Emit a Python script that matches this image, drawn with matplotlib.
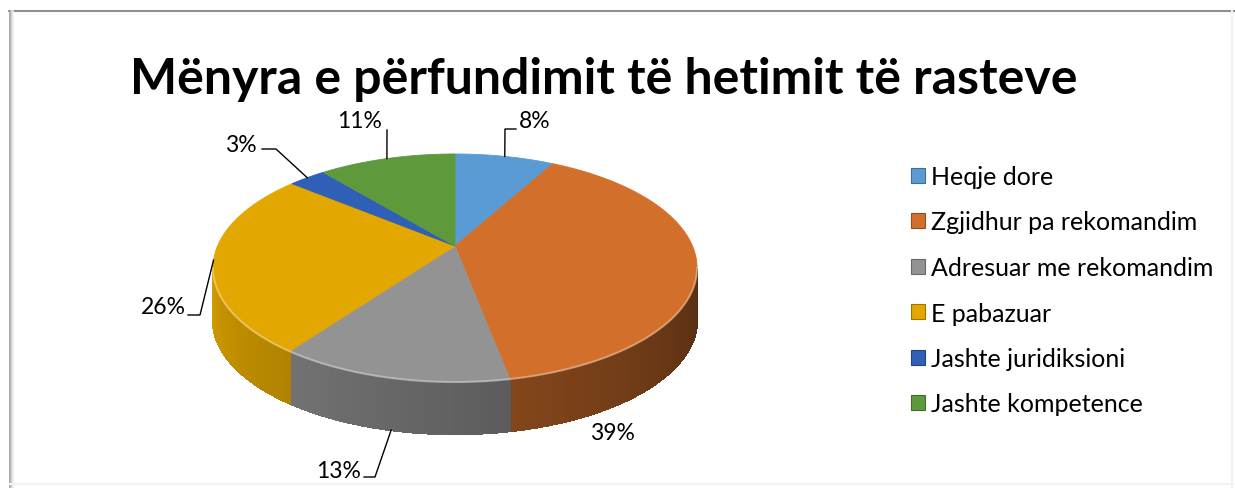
import numpy as np
import matplotlib.pyplot as plt
from matplotlib.patches import Polygon, Patch

title = 'Mënyra e përfundimit të hetimit të rasteve'
categories = ['Heqje dore', 'Zgjidhur pa rekomandim', 'Adresuar me rekomandim',
              'E pabazuar', 'Jashte juridiksioni', 'Jashte kompetence']
values = [8, 39, 13, 26, 3, 11]
colors = ['#5B9BD5', '#D2702B', '#939393', '#E2A700', '#2F5FB6', '#5E9A3C']

plt.rcParams['font.family'] = ['Lato', 'DejaVu Sans']

# geometry of the tilted pie, in pixels
CX, CY = 455, 247          # apex of the slices
RX, RY = 237.5, 109.8      # projected radii
PERSP = 0.193              # perspective strength
DEPTH = 52                 # height of the side wall


def rim(phi):
    a = np.radians(phi)
    u, v = np.sin(a), np.cos(a)
    d = 1 + PERSP * v
    return CX + RX * u / d, CY - RY * v / d


def shade(hex_color, f):
    c = np.array([int(hex_color[i:i + 2], 16) for i in (1, 3, 5)]) / 255.0
    return tuple(np.clip(c * f, 0, 1))


fig = plt.figure(figsize=(12.35, 4.89), dpi=100)
ax = fig.add_axes([0, 0, 1, 1])
ax.set_xlim(0, 1235)
ax.set_ylim(489, 0)
ax.axis('off')

total = sum(values)
bounds = np.concatenate([[0], np.cumsum(values) / total * 360])
sil = np.degrees(np.arccos(-PERSP))

# side walls (only the front part is visible)
for i, col in enumerate(colors):
    a0, a1 = max(bounds[i], sil), min(bounds[i + 1], 360 - sil)
    if a1 <= a0:
        continue
    steps = np.linspace(a0, a1, max(2, int((a1 - a0) / 0.5) + 1))
    for s0, s1 in zip(steps[:-1], steps[1:]):
        x0, y0 = rim(s0)
        x1, y1 = rim(s1)
        f = 0.4 + 0.52 * ((s0 + s1) / 2 - sil) / (360 - 2 * sil)
        c = shade(col, f)
        ax.add_patch(Polygon([(x0, y0), (x1, y1), (x1, y1 + DEPTH), (x0, y0 + DEPTH)],
                             closed=True, facecolor=c, edgecolor=c, lw=1.0,
                             antialiased=False, zorder=1))

# top faces
for i, col in enumerate(colors):
    arc = np.linspace(bounds[i], bounds[i + 1], max(3, int(bounds[i + 1] - bounds[i]) * 2))
    pts = [(CX, CY)] + [rim(a) for a in arc]
    ax.add_patch(Polygon(pts, closed=True, facecolor=col, edgecolor=col, lw=0.6, zorder=2))

# light bevel along the front rim
arc = np.linspace(sil, 360 - sil, 200)
hx, hy = zip(*[rim(a) for a in arc])
ax.plot(hx, hy, color='white', lw=1.5, alpha=0.35, zorder=3)

# data labels: text position, alignment, leader elbow and end
label_pos = [(519, 122, 'left'), (612, 433, 'center'), (361, 472, 'right'),
             (186, 308, 'right'), (257, 145, 'right'), (360, 121, 'center')]
leaders = [[(505, 130), (516, 130)], None, [(375, 478), (364, 478)],
           [(200, 316), (188, 316)], [(276, 150), (262, 150)], [(387, 131)]]
for i, v in enumerate(values):
    mid = (bounds[i] + bounds[i + 1]) / 2
    sx, sy = rim(mid)
    if np.cos(np.radians(mid)) < -0.5:
        sy += DEPTH
    if leaders[i] is not None:
        lx, ly = zip(*([(sx, sy)] + leaders[i]))
        ax.plot(lx, ly, color='black', lw=1, zorder=4)
    tx, ty, ha = label_pos[i]
    ax.text(tx, ty, f'{v}%', ha=ha, va='center', fontsize=16.5, zorder=5)

ax.text(604, 80, title, ha='center', va='center', fontsize=36, fontweight='bold')

handles = [Patch(facecolor=c, edgecolor=shade(c, 0.7), lw=0.8) for c in colors]
ax.legend(handles, categories, loc='upper left', bbox_to_anchor=(911, 166),
          bbox_transform=ax.transData, frameon=False, fontsize=18,
          handlelength=0.55, handleheight=0.55, handletextpad=0.25,
          labelspacing=0.9, borderpad=0, borderaxespad=0)

# chart border
ax.plot([9, 1235], [12, 12], color='#8f8f8f', lw=1.5, zorder=6)
for k, g in enumerate(['#a0a0a0', '#b8b8b8', '#d4d4d4', '#ececec']):
    ax.plot([10 + k, 10 + k], [12, 489], color=g, lw=1.2, zorder=6)
ax.plot([1232, 1232], [12, 489], color='#f2f2f2', lw=1.5, zorder=6)
ax.plot([10, 1235], [485, 485], color='#f2f2f2', lw=1.5, zorder=6)

fig.savefig('out.png', dpi=100)
